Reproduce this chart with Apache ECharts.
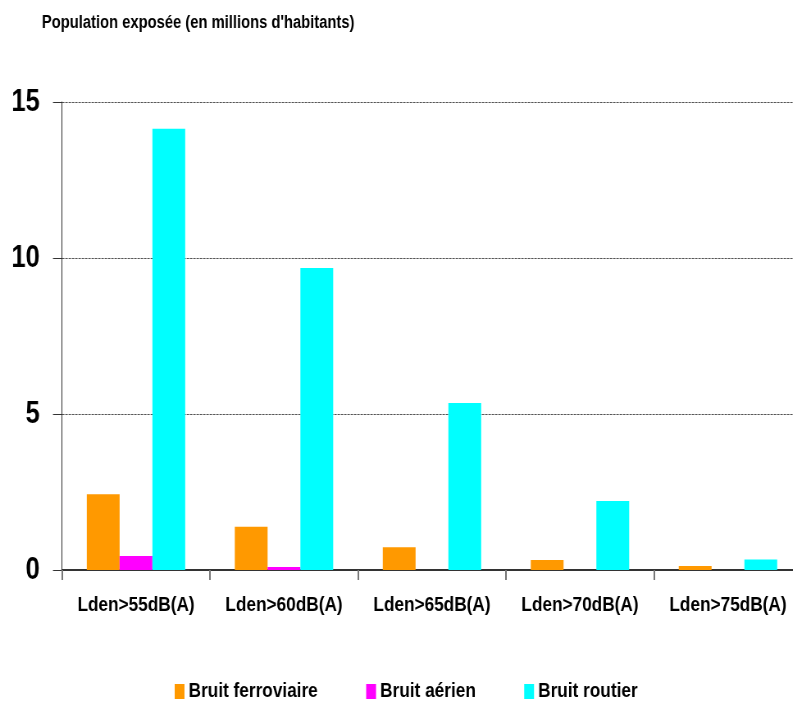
<!DOCTYPE html>
<html>
<head>
<meta charset="utf-8">
<script src="https://cdn.jsdelivr.net/npm/echarts@6/dist/echarts.min.js"></script>
<style>
html,body{margin:0;padding:0;background:#fff;overflow:hidden}
#wrap{width:793px;height:701px;overflow:hidden}
/* Arial-Narrow look: draw on a wider canvas and condense horizontally */
#c{width:1000px;height:701px;transform:scaleX(0.82);transform-origin:0 0}
</style>
</head>
<body>
<div id="wrap"><div id="c"></div></div>
<script>
var categories = ['Lden>55dB(A)', 'Lden>60dB(A)', 'Lden>65dB(A)', 'Lden>70dB(A)', 'Lden>75dB(A)'];
var ferroviaire = [2.43, 1.39, 0.73, 0.32, 0.13];
var aerien = [0.45, 0.10, '-', '-', -0.1];
var routier = [14.14, 9.68, 5.35, 2.21, 0.34];
var seriesNames = ['Bruit ferroviaire', 'Bruit aérien', 'Bruit routier'];
var yTicks = [0, 5, 10, 15];

var FONT = '"Liberation Sans", Arial, sans-serif';
var chart = echarts.init(document.getElementById('c'), null, {renderer: 'canvas'});
chart.setOption({
  backgroundColor: '#ffffff',
  animation: false,
  title: {
    text: 'Population exposée (en millions d\'habitants)',
    left: 46, top: 9,
    textStyle: {fontFamily: FONT, fontWeight: 'bold', fontSize: 18, color: '#000'}
  },
  legend: {
    data: seriesNames,
    left: 208, top: 676,
    icon: 'rect', itemWidth: 12, itemHeight: 15, itemGap: 59,
    textStyle: {fontFamily: FONT, fontWeight: 'bold', fontSize: 21, color: '#000'}
  },
  grid: {left: 75.6, width: 902.4, top: 102, bottom: 131, containLabel: false},
  xAxis: {
    type: 'category', data: categories,
    axisLine: {onZero: true, lineStyle: {color: '#333', width: 2}},
    axisTick: {show: true, length: 10, lineStyle: {color: '#777', width: 2}},
    axisLabel: {interval: 0, margin: 25, fontFamily: FONT, fontWeight: 'bold', fontSize: 21, color: '#000'}
  },
  yAxis: {
    type: 'value', min: yTicks[0], max: yTicks[yTicks.length - 1], interval: 5,
    axisLine: {show: true, lineStyle: {color: '#333', width: 1}},
    axisTick: {show: true, length: 11, lineStyle: {color: '#333'}},
    axisLabel: {margin: 27, fontFamily: FONT, fontWeight: 'bold', fontSize: 31, color: '#000'},
    splitLine: {show: true, lineStyle: {color: '#555', type: [3, 1], width: 1}}
  },
  series: [
    {name: seriesNames[0], type: 'bar', data: ferroviaire, barWidth: 40, barGap: '0%',
     itemStyle: {color: '#FF9900'}},
    {name: seriesNames[1], type: 'bar', data: aerien, barWidth: 40, barGap: '0%',
     itemStyle: {color: '#FF00FF'}},
    {name: seriesNames[2], type: 'bar', data: routier, barWidth: 40, barGap: '0%',
     itemStyle: {color: '#00FFFF'}}
  ]
});
</script>
</body>
</html>
